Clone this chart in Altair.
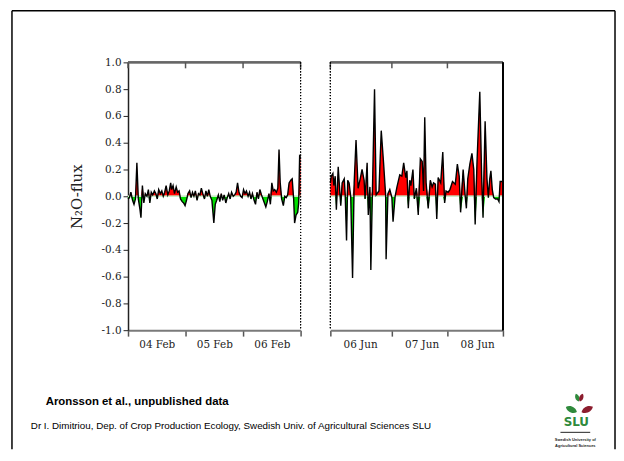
import altair as alt
import pandas as pd

# ---------------- data ----------------
left_hours = [
    0.0, 0.6, 1.2, 1.9, 2.5, 3.1, 3.7, 4.3, 5.0, 5.4,
    6.0, 6.6, 7.2, 7.9, 8.5, 9.1, 9.7, 10.3, 11.0, 11.6,
    12.2, 12.8, 13.5, 14.1, 14.7, 15.3, 15.9, 16.6, 17.2, 17.8,
    18.2, 18.8, 19.4, 20.1, 20.7, 21.3, 21.9, 22.6, 23.2, 23.8,
    24.4, 25.0, 25.7, 26.3, 26.9, 27.5, 28.1, 28.8, 29.4, 30.0,
    30.6, 31.2, 31.9, 32.5, 33.1, 33.7, 34.3, 35.0, 35.8, 36.4,
    37.0, 37.7, 38.3, 38.9, 39.5, 40.1, 40.8, 41.4, 42.0, 42.6,
    43.2, 43.9, 44.5, 45.1, 45.7, 46.3, 47.0, 47.6, 48.2, 48.8,
    49.4, 50.1, 50.7, 51.3, 51.9, 52.6, 53.2, 53.8, 54.4, 55.0,
    55.7, 56.3, 56.9, 57.5, 58.1, 58.8, 59.4, 60.0, 60.6, 61.2,
    61.9, 62.5, 63.0, 63.5, 64.1, 64.8, 65.4, 66.0, 66.6, 67.2,
    67.9, 68.5, 69.1, 69.5, 70.1, 70.8, 71.2, 71.6, 72.0,
]
left_flux = [
    -0.02, -0.01, 0.03, -0.03, -0.06, -0.02, 0.25, -0.02, -0.10, -0.16,
    0.08, -0.05, 0.02, 0.00, 0.05, -0.05, 0.03, 0.01, 0.04, 0.02,
    -0.02, 0.05, 0.02, 0.04, 0.00, 0.03, 0.08, 0.01, 0.04, 0.10,
    0.05, 0.08, 0.02, 0.07, 0.03, 0.04, -0.02, -0.04, -0.05, -0.07,
    -0.03, 0.02, 0.04, -0.01, 0.03, 0.00, 0.04, -0.03, 0.02, 0.01,
    0.06, 0.02, -0.02, 0.04, 0.00, 0.05, 0.00, -0.03, -0.20, -0.06,
    -0.03, 0.01, -0.04, 0.02, -0.03, 0.01, -0.05, -0.01, 0.02, -0.02,
    0.03, 0.00, 0.01, 0.03, 0.10, 0.03, 0.00, -0.01, 0.05, 0.02,
    0.04, 0.00, 0.03, -0.02, 0.02, -0.03, -0.06, 0.03, -0.02, 0.05,
    0.01, -0.02, -0.05, -0.08, -0.04, 0.02, -0.06, 0.10, 0.04, 0.05,
    0.03, 0.06, 0.35, 0.10, -0.02, -0.07, 0.00, -0.01, 0.01, 0.10,
    0.12, 0.13, -0.02, -0.20, -0.14, -0.12, -0.05, 0.30, 0.29,
]
right_hours = [
    0.0, 0.4, 1.1, 1.5, 2.1, 2.6, 3.0, 3.4, 4.1, 4.5,
    5.1, 6.0, 6.4, 7.0, 7.5, 8.1, 8.8, 9.6, 10.3, 11.1,
    12.0, 12.9, 13.7, 14.6, 15.0, 15.9, 16.4, 17.1, 17.5, 18.2,
    19.1, 19.8, 21.0, 22.0, 23.0, 23.9, 24.1, 24.9, 25.7, 26.6,
    27.1, 28.0, 28.8, 30.0, 30.9, 31.7, 32.6, 33.1, 33.7, 34.3,
    34.8, 35.7, 36.3, 37.2, 38.0, 38.9, 39.7, 40.3, 40.8, 41.4,
    42.3, 43.2, 44.0, 44.6, 45.4, 46.0, 46.6, 47.7, 48.6, 49.4,
    50.0, 50.9, 51.7, 52.8, 54.0, 54.9, 55.7, 56.3, 57.4, 58.3,
    58.8, 59.4, 60.3, 61.2, 62.0, 62.6, 63.4, 64.6, 65.4, 66.0,
    66.9, 67.7, 68.3, 68.9, 69.4, 70.0, 70.6, 71.4, 72.3, 72.9,
    73.4, 74.3,
]
right_flux = [
    0.10, 0.15, 0.17, 0.08, 0.15, -0.10, 0.05, 0.22, 0.03, -0.07,
    0.10, 0.13, 0.02, -0.33, 0.12, 0.10, 0.00, -0.61, 0.10, 0.42,
    0.06, 0.13, 0.20, 0.12, -0.02, 0.25, -0.14, 0.07, -0.55, 0.05,
    0.80, 0.01, 0.04, 0.49, 0.25, 0.01, -0.47, 0.02, 0.05, -0.01,
    -0.19, 0.00, 0.07, 0.16, 0.15, 0.25, 0.14, 0.19, -0.09, 0.12,
    0.08, 0.20, -0.02, 0.06, -0.14, 0.28, 0.26, 0.04, 0.59, 0.10,
    -0.09, 0.12, 0.07, 0.10, 0.09, -0.17, 0.14, 0.10, 0.33, -0.05,
    0.04, 0.03, 0.05, 0.11, 0.09, 0.24, 0.15, -0.12, 0.20, 0.00,
    -0.09, 0.13, 0.24, 0.32, 0.20, -0.21, 0.26, 0.78, 0.15, -0.16,
    0.56, 0.13, -0.01, 0.13, 0.19, 0.05, -0.01, -0.02, -0.02, -0.04,
    0.11, 0.11,
]

left_day_labels = ["04 Feb", "05 Feb", "06 Feb"]
right_day_labels = ["06 Jun", "07 Jun", "08 Jun"]
left_ticks = [0, 24, 48, 72]
right_ticks = [0, 26.6, 50.6, 74.6]
y_ticks = [-1.0, -0.8, -0.6, -0.4, -0.2, 0.0, 0.2, 0.4, 0.6, 0.8, 1.0]

source_text = ["Aronsson et al., unpublished data"]
credit_text = ["Dr I. Dimitriou, Dep. of Crop Production Ecology, Swedish Univ. of Agricultural Sciences SLU"]
logo_text = ["SLU"]
logo_small_1 = ["Swedish University of"]
logo_small_2 = ["Agricultural Sciences"]

W, H = 174, 270
GRAY = "#7a7a7a"
SERIF = "DejaVu Serif"
SANS = "Liberation Sans"

y_label_expr = ("datum.value < -0.001 ? '-' + format(-datum.value, '.1f') : "
                "format(abs(datum.value), '.1f')")


def panel(hours, flux, ticks, labels, label_offset, show_y, is_left):
    df = pd.DataFrame({"h": hours, "v": flux})
    df["pos"] = df["v"].clip(lower=0)
    df["neg"] = df["v"].clip(upper=0)
    df["base"] = 0.0
    tick_df = pd.DataFrame({"t": ticks})

    expr = (f"datum.value < {ticks[1] - 0.5} ? '{labels[0]}' : "
            f"datum.value < {ticks[2] - 0.5} ? '{labels[1]}' : "
            f"datum.value < {ticks[3] - 0.5} ? '{labels[2]}' : ''")
    xscale = alt.Scale(domain=[ticks[0], ticks[-1]], nice=False, zero=False)
    xaxis = alt.Axis(values=ticks, labelExpr=expr, labelOffset=label_offset,
                     title=None, tickSize=6, tickColor="#555", tickWidth=1.5,
                     domainColor=GRAY, domainWidth=2, labelPadding=3,
                     grid=False, labelFlush=False, labelOverlap=False,
                     labelBound=False)
    yscale = alt.Scale(domain=[-1, 1], nice=False, zero=False)
    if show_y:
        yaxis = alt.Axis(values=y_ticks, labelExpr=y_label_expr,
                         title="N\u2082O-flux", tickSize=5, tickColor="#222",
                         domainColor="#222", domainWidth=1.5, grid=False,
                         labelPadding=2, titlePadding=17, titleFontSize=15,
                         titleFontWeight="normal", labelOverlap=False)
    else:
        yaxis = None

    X = alt.X("h:Q", scale=xscale, axis=xaxis)
    base = alt.Chart(df)
    red = base.mark_area(color="#ff0000", interpolate="linear").encode(
        x=X, y=alt.Y("pos:Q", scale=yscale, axis=yaxis), y2="base:Q")
    green = base.mark_area(color="#00e000", interpolate="linear").encode(
        x=X, y=alt.Y("neg:Q", scale=yscale, axis=yaxis), y2="base:Q")
    zero = alt.Chart(tick_df).mark_rule(color="#c8efc8", strokeWidth=1).encode(
        y=alt.Y(datum=0, scale=yscale, axis=yaxis))
    line = base.mark_line(color="black", strokeWidth=1.4,
                          interpolate="linear").encode(
        x=X, y=alt.Y("v:Q", scale=yscale, axis=yaxis))
    top = alt.Chart(tick_df).mark_rule(color="#666", strokeWidth=2).encode(
        x=alt.value(0), x2=alt.value(W), y=alt.value(0))
    top_ticks = alt.Chart(tick_df).mark_rule(color="#555", strokeWidth=1.5).encode(
        x=alt.X("t:Q", scale=xscale, axis=xaxis), y=alt.value(0), y2=alt.value(6))

    layers = [red, green, zero, line, top, top_ticks]
    if is_left:
        layers.append(alt.Chart(tick_df).mark_rule(
            color="black", strokeWidth=1, strokeDash=[1, 2]).encode(
            x=alt.value(W), y=alt.value(0), y2=alt.value(H)))
    else:
        layers.append(alt.Chart(tick_df).mark_rule(
            color="black", strokeWidth=1, strokeDash=[1, 2]).encode(
            x=alt.value(0), y=alt.value(0), y2=alt.value(H)))
        layers.append(alt.Chart(tick_df).mark_rule(
            color="black", strokeWidth=1.5).encode(
            x=alt.value(W), y=alt.value(0), y2=alt.value(H)))

    if is_left:
        one = pd.DataFrame({"k": [0]})
        # slide frame (relative to this panel's plot origin)
        fl, ft, fr, fb = -117, -52, 491, 390
        layers.append(alt.Chart(one).mark_rule(color="black", strokeWidth=1.5).encode(
            x=alt.value(fl), y=alt.value(ft), y2=alt.value(fb)))
        layers.append(alt.Chart(one).mark_rule(color="black", strokeWidth=1.5).encode(
            x=alt.value(fr), y=alt.value(ft), y2=alt.value(fb)))
        layers.append(alt.Chart(one).mark_rule(color="black", strokeWidth=1.5).encode(
            x=alt.value(fl), x2=alt.value(fr), y=alt.value(ft)))
        # footnotes
        layers.append(alt.Chart(pd.DataFrame({"s": source_text})).mark_text(
            font=SANS, fontSize=11.5, fontWeight="bold", align="left",
            baseline="middle", color="black").encode(
            text="s:N", x=alt.value(-83), y=alt.value(342)))
        layers.append(alt.Chart(pd.DataFrame({"s": credit_text})).mark_text(
            font=SANS, fontSize=9.9, align="left", baseline="middle",
            color="black").encode(
            text="s:N", x=alt.value(-98), y=alt.value(367)))
        # SLU logo
        leaf = "M -1 0 C -0.5 -0.65 0.5 -0.65 1 0 C 0.5 0.65 -0.5 0.65 -1 0 Z"
        layers.append(alt.Chart(one).mark_point(
            shape=leaf, filled=True, size=150, angle=25, color="#2f8a3c",
            opacity=1).encode(x=alt.value(447), y=alt.value(350)))
        layers.append(alt.Chart(one).mark_point(
            shape=leaf, filled=True, size=160, angle=335, color="#8c1d2e",
            opacity=1).encode(x=alt.value(463), y=alt.value(350)))
        layers.append(alt.Chart(one).mark_point(
            shape=leaf, filled=True, size=70, angle=70, color="#2f8a3c",
            opacity=1).encode(x=alt.value(453), y=alt.value(338)))
        layers.append(alt.Chart(one).mark_point(
            shape=leaf, filled=True, size=70, angle=110, color="#8c1d2e",
            opacity=1).encode(x=alt.value(457), y=alt.value(338)))
        layers.append(alt.Chart(pd.DataFrame({"s": logo_text})).mark_text(
            font="DejaVu Sans", fontSize=12, fontWeight="bold", align="center",
            baseline="middle", color="#2f8a3c").encode(
            text="s:N", x=alt.value(452), y=alt.value(363)))
        layers.append(alt.Chart(one).mark_rule(color="#222", strokeWidth=1).encode(
            x=alt.value(436), x2=alt.value(466), y=alt.value(373)))
        layers.append(alt.Chart(pd.DataFrame({"s": logo_small_1})).mark_text(
            font=SANS, fontSize=4, fontWeight="bold", align="center",
            baseline="middle", color="#222").encode(
            text="s:N", x=alt.value(451), y=alt.value(381)))
        layers.append(alt.Chart(pd.DataFrame({"s": logo_small_2})).mark_text(
            font=SANS, fontSize=4, fontWeight="bold", align="center",
            baseline="middle", color="#222").encode(
            text="s:N", x=alt.value(451), y=alt.value(387)))

    return alt.layer(*layers).properties(width=W, height=H)


left = panel(left_hours, left_flux, left_ticks, left_day_labels, 29, True, True)
right = panel(right_hours, right_flux, right_ticks, right_day_labels, 30, False, False)

chart = alt.hconcat(left, right, spacing=30, bounds="flush").properties(
    padding={"left": 3, "top": 0, "right": 0, "bottom": 0}
).configure(background="white").configure_view(stroke=None).configure_axis(
    labelFont=SERIF, labelFontSize=10.5, labelColor="#222",
    titleFont=SERIF, titleColor="#222"
)

chart.save("out.html", embed_options={"renderer": "svg", "actions": False})
